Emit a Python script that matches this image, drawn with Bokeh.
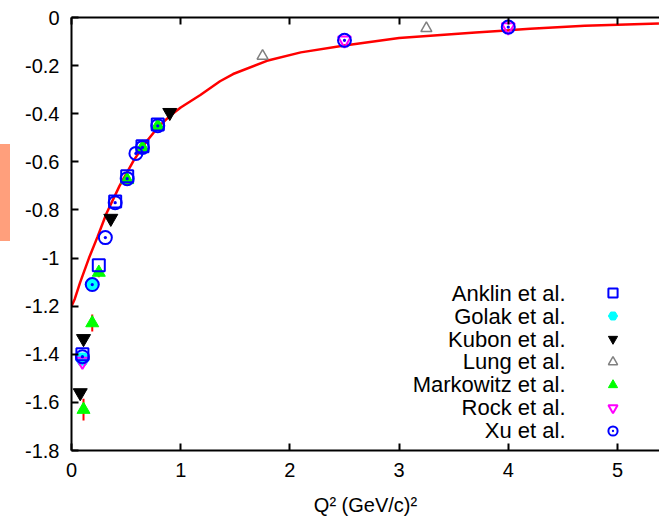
from bokeh.plotting import figure
from bokeh.layouts import row
from bokeh.models import (FixedTicker, LinearAxis, Legend, LegendItem, Div, Label,
                          Range1d, Whisker, ColumnDataSource)
from bokeh.core.properties import value
from bokeh.embed import file_html
from bokeh.resources import INLINE

# ---- data ----
curve_q2 = [0.0, 0.03, 0.08, 0.16, 0.24, 0.32, 0.44, 0.57, 0.68, 0.79, 0.90, 1.0,
            1.18, 1.36, 1.48, 1.79, 2.10, 2.50, 3.00, 3.70, 4.20, 4.70, 5.38]
curve_g = [-1.20, -1.17, -1.10, -1.00, -0.91, -0.815, -0.70, -0.594, -0.52, -0.457, -0.41, -0.374,
           -0.322, -0.265, -0.235, -0.180, -0.145, -0.116, -0.085, -0.062, -0.047, -0.034, -0.025]

anklin_q2 = [0.10, 0.25, 0.40, 0.51, 0.65, 0.79]
anklin_g = [-1.40, -1.03, -0.765, -0.66, -0.535, -0.445]

golak_q2 = [0.10, 0.19]
golak_g = [-1.42, -1.11]

kubon_q2 = [0.08, 0.11, 0.36, 0.90]
kubon_g = [-1.56, -1.335, -0.835, -0.395]

lung_q2 = [1.75, 3.25]
lung_g = [-0.16, -0.045]

mark_q2 = [0.11, 0.19, 0.25, 0.51, 0.65, 0.79]
mark_g = [-1.63, -1.27, -1.06, -0.675, -0.54, -0.45]
mark_err = [0.045, 0.035, 0.02, 0.02, 0.02, 0.02]

rock_q2 = [0.10, 2.50, 4.00]
rock_g = [-1.43, -0.095, -0.04]

xu_q2 = [0.10, 0.19, 0.31, 0.40, 0.51, 0.59, 0.65, 0.79, 2.50, 4.00]
xu_g = [-1.41, -1.11, -0.915, -0.77, -0.67, -0.565, -0.54, -0.45, -0.095, -0.04]

legend_labels = ["Anklin et al.", "Golak et al.", "Kubon et al.", "Lung et al.",
                 "Markowitz et al.", "Rock et al.", "Xu et al."]

x_ticks = [0, 1, 2, 3, 4, 5]
y_ticks = [0, -0.2, -0.4, -0.6, -0.8, -1.0, -1.2, -1.4, -1.6, -1.8]
y_tick_text = ["0", "-0.2", "-0.4", "-0.6", "-0.8", "-1", "-1.2", "-1.4", "-1.6", "-1.8"]

FONT = "Liberation Sans"

p = figure(width=649, height=523, output_backend="svg", toolbar_location=None,
           x_range=Range1d(0, 5.385), y_range=Range1d(-1.8, 0),
           min_border_left=61, min_border_right=0, min_border_top=17, min_border_bottom=73,
           x_axis_label="Q\u00b2 (GeV/c)\u00b2")
p.grid.visible = False
p.outline_line_color = None
p.background_fill_color = "white"
p.border_fill_color = "white"

for ax in (p.xaxis[0], p.yaxis[0]):
    ax.axis_line_width = 2
    ax.major_tick_line_width = 2
    ax.major_tick_in = 7
    ax.major_tick_out = 0
    ax.minor_tick_line_color = None
    ax.major_label_text_font = FONT
    ax.major_label_text_font_size = "20px"
    ax.major_label_text_color = "black"
    ax.major_label_standoff = 12

p.xaxis[0].ticker = FixedTicker(ticks=x_ticks)
p.yaxis[0].ticker = FixedTicker(ticks=y_ticks)
p.yaxis[0].major_label_overrides = {t: s for t, s in zip(y_ticks, y_tick_text)}
p.xaxis[0].axis_label_text_font = FONT
p.xaxis[0].axis_label_text_font_size = "20px"
p.xaxis[0].axis_label_text_font_style = "normal"
p.xaxis[0].axis_label_text_color = "black"
p.xaxis[0].axis_label_standoff = 14

top = LinearAxis(ticker=FixedTicker(ticks=x_ticks), axis_line_width=2,
                 major_tick_line_width=2, major_tick_in=7, major_tick_out=0,
                 minor_tick_line_color=None, major_label_text_color=None)
p.add_layout(top, "above")

# curve
p.line(curve_q2, curve_g, line_color="red", line_width=2.5)

# error bars (Markowitz)
src_m = ColumnDataSource(dict(x=mark_q2, y=mark_g,
                              lo=[g - e for g, e in zip(mark_g, mark_err)],
                              hi=[g + e for g, e in zip(mark_g, mark_err)]))
p.add_layout(Whisker(source=src_m, base="x", lower="lo", upper="hi",
                     line_color="red", line_width=2,
                     upper_head=None, lower_head=None))

r_golak = p.scatter(golak_q2, golak_g, marker="hex", size=14, fill_color="cyan", line_color="cyan")
r_mark = p.scatter(mark_q2, mark_g, marker="triangle", size=13, fill_color="#00ff00", line_color="#00ff00")
r_rock = p.scatter(rock_q2, rock_g, marker="inverted_triangle", size=13, fill_color=None,
                   line_color="magenta", line_width=2)
r_anklin = p.scatter(anklin_q2, anklin_g, marker="square", size=12, fill_color=None,
                     line_color="blue", line_width=2)
r_xu = p.scatter(xu_q2, xu_g, marker="circle_dot", size=13, fill_color=None,
                 line_color="blue", line_width=2)
r_kubon = p.scatter(kubon_q2, kubon_g, marker="inverted_triangle", size=14, fill_color="black",
                    line_color="black")
r_lung = p.scatter(lung_q2, lung_g, marker="triangle", size=11, fill_color=None,
                   line_color="gray", line_width=1.5)

# legend: markers from the legend itself (key only), texts placed to their left
renderers = [r_anklin, r_golak, r_kubon, r_lung, r_mark, r_rock, r_xu]
legend = Legend(items=[LegendItem(label=value(" "), renderers=[r]) for r in renderers],
                location=(530, 8), orientation="vertical",
                glyph_width=23, glyph_height=23, label_height=23, spacing=0,
                label_standoff=0,
                label_text_font=FONT, label_text_font_size="12px", label_text_color=None,
                padding=0, margin=0,
                background_fill_alpha=0, border_line_alpha=0)
p.add_layout(legend, "center")

row_y = [157, 134, 111, 89, 66, 43, 20]
for lab, yy in zip(legend_labels, row_y):
    p.add_layout(Label(x=494, y=yy, x_units="screen", y_units="screen", text=lab,
                       text_align="right", text_baseline="middle",
                       text_font=FONT, text_font_size="22px", text_color="black"))

# orange strip at the far left edge
strip = Div(text="", width=10, height=97, margin=(144, 0, 0, 0),
            styles={"background-color": "#ff9f7c"})

layout = row(strip, p, spacing=0)
open("out.html", "w").write(file_html(layout, INLINE))
